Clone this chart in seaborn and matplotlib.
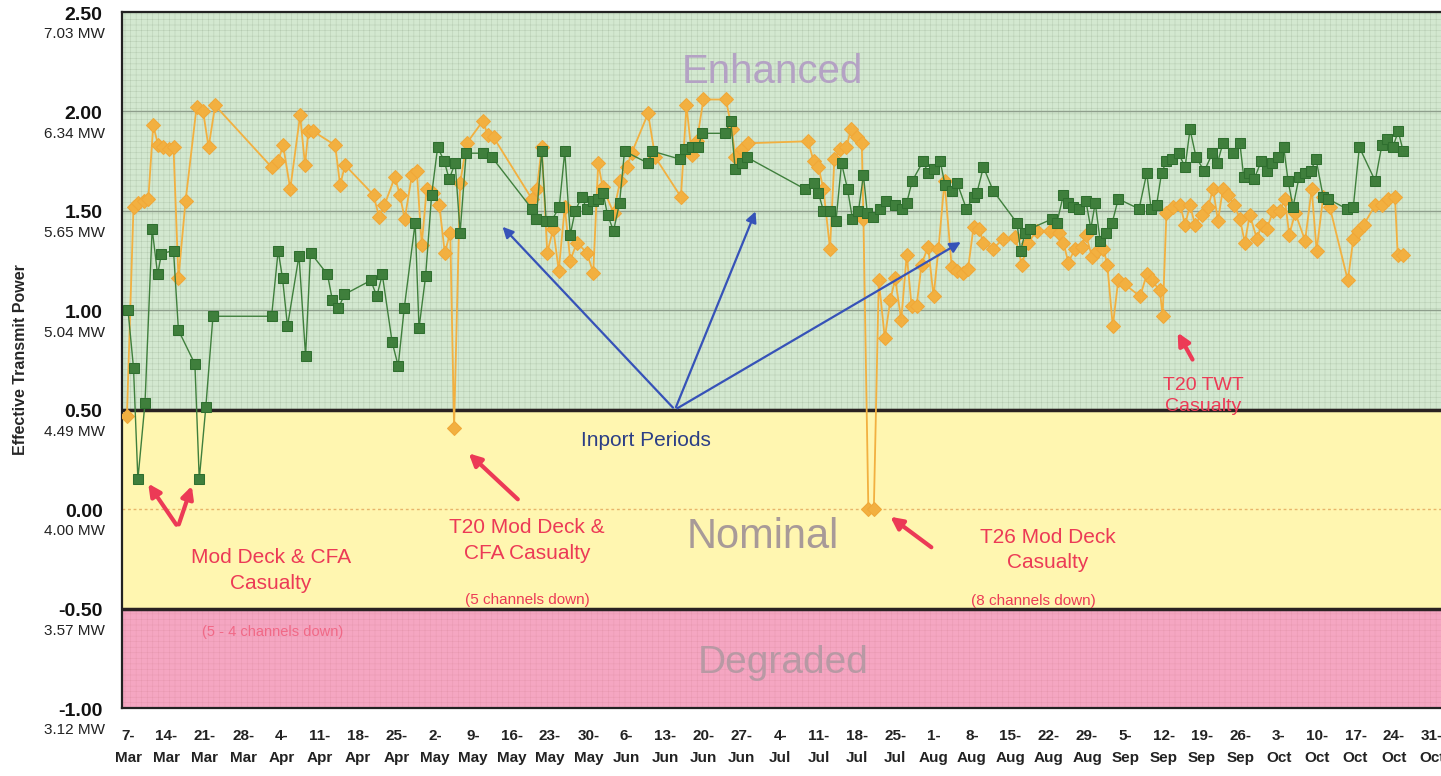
import numpy as np
import pandas as pd
import seaborn as sns
import matplotlib.pyplot as plt
import matplotlib.transforms as mtransforms

# days since 7-Mar
green_days = [0.0, 1.0, 1.8, 3.1, 4.4, 5.4, 6.1, 8.3, 9.2, 12.2, 13.0, 14.2, 15.5, 26.2, 27.4, 28.2, 29.1,
              31.2, 32.4, 33.3, 36.4, 37.3, 38.4, 39.5, 44.3, 45.4, 46.4, 48.2, 49.3, 50.4, 52.4, 53.1,
              54.3, 55.4, 56.5, 57.7, 58.6, 59.7, 60.6, 61.7, 64.7, 66.4, 73.7, 74.5, 75.5, 76.3, 77.3,
              78.7, 79.7, 80.7, 81.6, 82.8, 83.7, 84.8, 85.8, 86.7, 87.5, 88.6, 89.7, 90.6, 94.9, 95.7,
              100.7, 101.6, 102.9, 104.1, 104.7, 108.9, 110.0, 110.8, 112.0, 112.9, 123.5, 125.1, 126.0,
              126.9, 128.1, 129.2, 130.2, 131.3, 132.2, 133.3, 134.2, 134.9, 136.0, 137.2, 138.4, 140.0,
              141.2, 142.1, 143.1, 145.1, 146.0, 147.0, 148.2, 149.1, 150.3, 151.3, 153.0, 154.3, 154.9,
              156.1, 157.9, 162.2, 162.9, 163.7, 164.6, 168.7, 169.5, 170.7, 171.6, 172.5, 173.6, 174.8,
              175.7, 176.5, 177.4, 178.4, 179.6, 180.7, 184.5, 185.9, 186.7, 187.7, 188.6, 189.5, 190.6,
              191.7, 192.9, 193.8, 194.9, 196.4, 197.9, 198.8, 199.8, 201.7, 202.9, 203.6, 204.6, 205.5,
              206.8, 207.8, 208.8, 209.9, 210.9, 211.7, 212.6, 213.7, 214.8, 215.8, 216.8, 218.1, 219.0,
              222.4, 223.6, 224.7, 227.6, 228.8, 229.7, 230.8, 231.8, 232.7]
green_vals = [1.00, 0.71, 0.15, 0.535, 1.41, 1.18, 1.285, 1.30, 0.90, 0.73, 0.15, 0.515, 0.97, 0.97, 1.30,
              1.16, 0.92, 1.275, 0.77, 1.29, 1.18, 1.05, 1.01, 1.08, 1.15, 1.07, 1.18, 0.84, 0.72, 1.01,
              1.44, 0.91, 1.17, 1.58, 1.82, 1.75, 1.66, 1.74, 1.39, 1.79, 1.79, 1.77, 1.51, 1.46, 1.80,
              1.45, 1.45, 1.52, 1.80, 1.38, 1.50, 1.57, 1.51, 1.55, 1.56, 1.59, 1.48, 1.40, 1.54, 1.80,
              1.74, 1.80, 1.76, 1.81, 1.82, 1.82, 1.89, 1.89, 1.95, 1.71, 1.74, 1.77, 1.61, 1.64, 1.59,
              1.50, 1.50, 1.45, 1.74, 1.61, 1.46, 1.50, 1.68, 1.49, 1.47, 1.51, 1.55, 1.53, 1.51, 1.54,
              1.65, 1.75, 1.69, 1.71, 1.75, 1.63, 1.60, 1.64, 1.51, 1.57, 1.59, 1.72, 1.60, 1.44, 1.30,
              1.39, 1.41, 1.46, 1.44, 1.58, 1.54, 1.52, 1.51, 1.55, 1.41, 1.54, 1.35, 1.39, 1.44, 1.56,
              1.51, 1.69, 1.51, 1.53, 1.69, 1.75, 1.76, 1.79, 1.72, 1.91, 1.77, 1.70, 1.79, 1.74, 1.84,
              1.79, 1.84, 1.67, 1.69, 1.66, 1.75, 1.70, 1.74, 1.77, 1.82, 1.65, 1.52, 1.67, 1.69, 1.70,
              1.76, 1.57, 1.56, 1.51, 1.52, 1.82, 1.65, 1.83, 1.86, 1.82, 1.90, 1.80]

orange_days = [-0.2, 1.0, 1.9, 2.9, 3.7, 4.6, 5.5, 6.4, 7.4, 8.3, 9.2, 10.5, 12.5, 13.7, 14.7, 15.9, 26.2,
               27.4, 28.3, 29.6, 31.4, 32.3, 32.9, 33.8, 37.8, 38.7, 39.6, 44.8, 45.8, 46.8, 48.7, 49.6,
               50.5, 51.8, 52.7, 53.6, 54.5, 55.7, 56.8, 57.8, 58.8, 59.5, 60.6, 61.8, 64.7, 65.7, 66.7,
               73.7, 74.6, 75.5, 76.5, 77.6, 78.6, 79.7, 80.7, 81.9, 83.7, 84.9, 85.8, 86.6, 88.6, 89.8,
               91.0, 91.9, 94.9, 96.2, 100.9, 101.9, 102.9, 103.8, 105.0, 109.1, 110.2, 110.8, 112.0,
               113.2, 124.1, 125.1, 126.0, 126.9, 128.1, 128.9, 129.9, 131.1, 131.9, 133.0, 133.9, 134.2,
               135.1, 136.1, 137.0, 138.1, 139.1, 140.0, 141.1, 142.1, 143.0, 143.9, 144.8, 146.0, 147.0,
               147.9, 149.0, 150.3, 151.2, 152.4, 153.3, 154.3, 155.3, 156.1, 157.9, 159.7, 161.9, 163.1,
               164.3, 165.8, 168.2, 169.8, 170.7, 171.6, 172.8, 174.0, 174.8, 175.9, 176.8, 178.0, 178.7,
               179.7, 180.7, 181.9, 184.7, 185.9, 186.8, 188.3, 188.8, 189.5, 190.7, 192.0, 192.9, 193.8,
               194.7, 195.9, 197.1, 198.0, 198.9, 199.8, 200.7, 201.9, 202.9, 203.8, 204.7, 206.0, 206.9,
               207.8, 209.0, 210.2, 211.1, 211.9, 213.0, 214.8, 216.0, 216.9, 218.1, 219.3, 222.6, 223.6,
               224.5, 225.5, 227.6, 228.8, 230.0, 231.2, 231.7, 232.7]
orange_vals = [0.47, 1.52, 1.54, 1.55, 1.56, 1.93, 1.83, 1.82, 1.81, 1.82, 1.16, 1.55, 2.02, 2.00, 1.82,
               2.03, 1.72, 1.75, 1.83, 1.61, 1.98, 1.73, 1.90, 1.90, 1.83, 1.63, 1.73, 1.58, 1.47, 1.53,
               1.67, 1.58, 1.46, 1.68, 1.70, 1.33, 1.61, 1.59, 1.53, 1.29, 1.39, 0.41, 1.64, 1.84, 1.95,
               1.88, 1.87, 1.56, 1.61, 1.82, 1.29, 1.41, 1.20, 1.52, 1.25, 1.34, 1.29, 1.19, 1.74, 1.62,
               1.49, 1.65, 1.72, 1.79, 1.99, 1.77, 1.57, 2.03, 1.78, 1.85, 2.06, 2.06, 1.91, 1.77, 1.81,
               1.84, 1.85, 1.75, 1.72, 1.61, 1.31, 1.76, 1.81, 1.82, 1.91, 1.87, 1.84, 1.46, 0.00, 0.00,
               1.15, 0.86, 1.05, 1.16, 0.95, 1.28, 1.02, 1.02, 1.23, 1.32, 1.07, 1.31, 1.65, 1.22, 1.20,
               1.19, 1.21, 1.42, 1.41, 1.34, 1.31, 1.36, 1.37, 1.23, 1.34, 1.40, 1.40, 1.39, 1.34, 1.24,
               1.31, 1.32, 1.38, 1.27, 1.30, 1.31, 1.23, 0.92, 1.15, 1.13, 1.07, 1.18, 1.15, 1.10, 0.97,
               1.49, 1.52, 1.53, 1.43, 1.53, 1.43, 1.48, 1.52, 1.61, 1.45, 1.61, 1.58, 1.53, 1.46, 1.34,
               1.48, 1.36, 1.43, 1.41, 1.50, 1.50, 1.56, 1.38, 1.49, 1.35, 1.61, 1.30, 1.57, 1.52, 1.15,
               1.36, 1.40, 1.43, 1.53, 1.53, 1.56, 1.57, 1.28, 1.28]

y_ticks = [-1.0, -0.5, 0.0, 0.5, 1.0, 1.5, 2.0, 2.5]
mw_labels = ['3.12 MW', '3.57 MW', '4.00 MW', '4.49 MW', '5.04 MW', '5.65 MW', '6.34 MW', '7.03 MW']
start = pd.Timestamp('2010-03-07')
week_days = list(range(0, 239, 7))

green = pd.DataFrame({'date': start + pd.to_timedelta(green_days, unit='D'), 'val': green_vals})
orange = pd.DataFrame({'date': start + pd.to_timedelta(orange_days, unit='D'), 'val': orange_vals})

sns.set_style('white')
plt.rcParams['font.family'] = ['Liberation Sans', 'DejaVu Sans']
plt.rcParams['hatch.linewidth'] = 0.35

fig = plt.figure(figsize=(14.41, 7.76), dpi=100)
ax = fig.add_axes([122 / 1441, 68 / 776, 1 - 122 / 1441, 696 / 776])

# zone backgrounds
ax.axhspan(0.5, 2.5, facecolor='#d3e8d0', edgecolor='#b5cbb1', hatch='+++', lw=0, zorder=0)
ax.axhspan(-0.5, 0.5, facecolor='#fff6b0', edgecolor='#fff6b0', lw=0, zorder=0)
ax.axhspan(-1.0, -0.5, facecolor='#f5a6c2', edgecolor='#e898b0', hatch='+++', lw=0, zorder=0)
for yv in [1.0, 1.5, 2.0]:
    ax.axhline(yv, color='#8e9e8c', lw=1.0, zorder=1)
ax.axhline(0.0, color='#e8b46a', lw=1.0, ls=(0, (2, 2)), zorder=1)
for yv in [0.5, -0.5]:
    ax.axhline(yv, color='#2a2222', lw=2.5, zorder=2)

sns.lineplot(data=green, x='date', y='val', ax=ax, color='#3f7f3c', lw=1.0, marker='s', markersize=6.5,
             markeredgecolor='#2f6f2f', estimator=None, sort=False, zorder=4)
sns.lineplot(data=orange, x='date', y='val', ax=ax, color='#f2b040', lw=1.3, marker='D', markersize=7,
             markeredgecolor='#f0a838', estimator=None, sort=False, zorder=3)

ax.set_xlim(start + pd.Timedelta(days=-1.1), start + pd.Timedelta(days=239.6))
ax.set_ylim(-1.0, 2.5)

tick_dates = [start + pd.Timedelta(days=d) for d in week_days]
ax.set_xticks(tick_dates)
ax.set_xticklabels([f"{d.day}-\n{d.strftime('%b')}" for d in tick_dates], fontsize=11,
                   fontweight='bold', color='#222222', linespacing=1.75)
ax.tick_params(axis='x', length=0, pad=15)

ax.set_yticks(y_ticks)
ax.set_yticklabels([f'{v:.2f}' for v in y_ticks], fontsize=14, fontweight='bold', color='#111111')
ax.tick_params(axis='y', length=0, pad=14)
shift = mtransforms.ScaledTranslation(0, -3 / 100, fig.dpi_scale_trans)
for lab in ax.get_yticklabels():
    lab.set_verticalalignment('center')
    lab.set_transform(lab.get_transform() + shift)
for yv, lab in zip(y_ticks, mw_labels):
    ax.annotate(lab, xy=(0, yv), xycoords=('axes fraction', 'data'), xytext=(-12, -16),
                textcoords='offset points', ha='right', va='center', fontsize=11, color='#222222')

ax.set_xlabel('')
ax.set_ylabel('Effective Transmit Power', fontsize=11.5, fontweight='bold', labelpad=22)

for side in ['top', 'left', 'bottom']:
    ax.spines[side].set_color('#222222')
    ax.spines[side].set_linewidth(1.6)
ax.spines['right'].set_visible(False)

# zone names
ax.text(0.493, 0.914, 'Enhanced', transform=ax.transAxes, ha='center', va='center', fontsize=29, color='#b4a2c4')
ax.text(0.486, 0.246, 'Nominal', transform=ax.transAxes, ha='center', va='center', fontsize=30, color='#a89a98')
ax.text(0.501, 0.065, 'Degraded', transform=ax.transAxes, ha='center', va='center', fontsize=28, color='#b899a4')

def dpt(d, v):
    return (start + pd.Timedelta(days=d), v)

# inport arrows
ax.text(0.397, 0.384, 'Inport Periods', transform=ax.transAxes, ha='center', va='center', fontsize=15, color='#2c3f86')
for tgt in [(68.0, 1.43), (114.7, 1.51), (152.4, 1.35)]:
    ax.annotate('', xy=dpt(*tgt), xytext=dpt(99.8, 0.50),
                arrowprops=dict(arrowstyle='-|>', color='#3652b8', lw=1.6, mutation_scale=16), zorder=5)

red = '#ec3a56'
ax.text(0.113, 0.198, 'Mod Deck & CFA\nCasualty', transform=ax.transAxes, ha='center', va='center',
        fontsize=15, color=red, linespacing=1.45)
ax.text(0.114, 0.109, '(5 - 4 channels down)', transform=ax.transAxes, ha='center', va='center',
        fontsize=10.5, color='#f05a78', alpha=0.8)
ax.text(0.307, 0.241, 'T20 Mod Deck &\nCFA Casualty', transform=ax.transAxes, ha='center', va='center',
        fontsize=15, color=red, linespacing=1.45)
ax.text(0.307, 0.155, '(5 channels down)', transform=ax.transAxes, ha='center', va='center',
        fontsize=11, color=red)
ax.text(0.702, 0.227, 'T26 Mod Deck\nCasualty', transform=ax.transAxes, ha='center', va='center',
        fontsize=15, color=red, linespacing=1.45)
ax.text(0.691, 0.154, '(8 channels down)', transform=ax.transAxes, ha='center', va='center',
        fontsize=11, color=red)
ax.text(0.820, 0.448, 'T20 TWT\nCasualty', transform=ax.transAxes, ha='center', va='center',
        fontsize=14, color=red, linespacing=1.3)

red_arrows = [((9.1, -0.09), (3.4, 0.14)), ((9.1, -0.09), (11.8, 0.13)), ((71.5, 0.04), (61.8, 0.29)),
              ((147.0, -0.20), (138.7, -0.03)), ((194.5, 0.74), (191.3, 0.90))]
for tail, head in red_arrows:
    ax.annotate('', xy=dpt(*head), xytext=dpt(*tail),
                arrowprops=dict(arrowstyle='-|>', color=red, lw=3, mutation_scale=18), zorder=5)

fig.savefig('out.png', dpi=100)
